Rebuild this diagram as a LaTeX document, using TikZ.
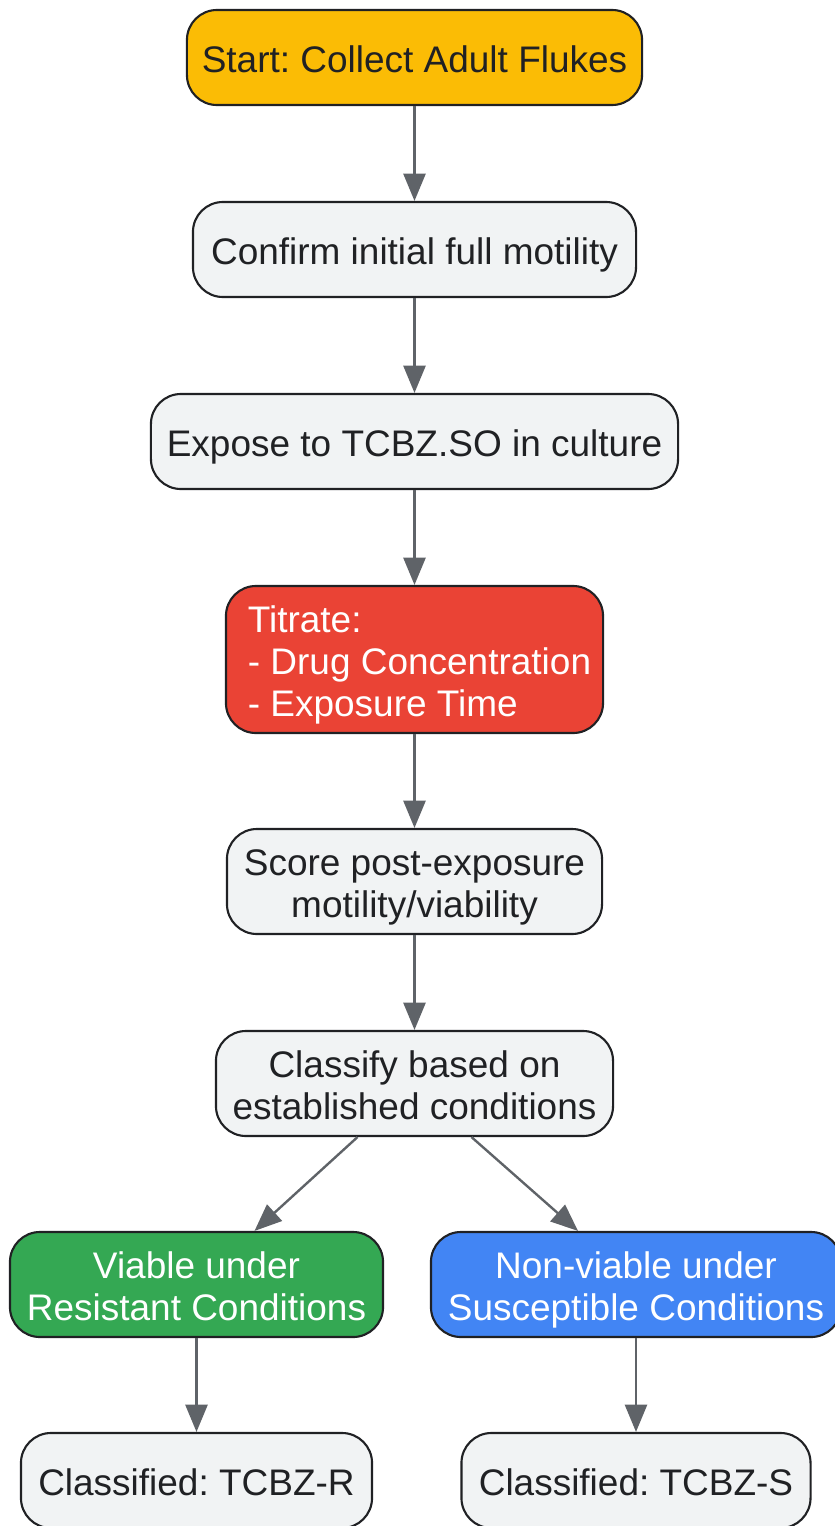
\documentclass[tikz,border=0pt]{standalone}
\usepackage{fontspec}
\setmainfont{Liberation Sans}
\frenchspacing
\usetikzlibrary{arrows.meta,calc}

\definecolor{startyellow}{HTML}{FBBC05}
\definecolor{titratered}{HTML}{EA4335}
\definecolor{viablegreen}{HTML}{34A853}
\definecolor{nonviableblue}{HTML}{4285F4}
\definecolor{boxgray}{HTML}{F1F3F4}
\definecolor{boxline}{HTML}{202124}
\definecolor{flowgray}{HTML}{5F6368}

\newcommand{\tstrut}{\rule[-0.25em]{0pt}{1.33em}}
\newcommand{\bstrut}{\rule[-0.25em]{0pt}{0.25em}}

\tikzset{
  box/.style={draw=boxline, line width=1.5pt, rounded corners=0.75cm, fill=boxgray,
    text=boxline, font=\fontsize{26.3}{29.9}\selectfont, align=center, inner sep=0pt},
  flow/.style={draw=flowgray, line width=1.7pt, -{Triangle[length=0.68cm,width=0.55cm]}}
}

\begin{document}
\begin{tikzpicture}[x=0.025cm,y=-0.025cm]
        \useasboundingbox (0,0) rectangle (835,1526);
        % main column
        \node[box, fill=startyellow, minimum width=11.375cm, minimum height=2.375cm] (start) at (414.5,57.5) {\tstrut Start: Collect Adult Flukes\bstrut};
        \node[box, minimum width=11.075cm, minimum height=2.375cm] (confirm) at (414.5,249.5) {\tstrut Confirm initial full motility\bstrut};
        \node[box, minimum width=13.175cm, minimum height=2.375cm] (expose) at (414.5,441.5) {\tstrut Expose to TCBZ.SO in culture\bstrut};
        \node[box, fill=titratered, text=white, align=left, minimum width=9.425cm, minimum height=3.675cm] (titrate) at (414.5,659.5) {\tstrut\hspace*{0.25cm}Titrate:\\\hspace*{0.25cm}- Drug Concentration\\\hspace*{0.25cm}- Exposure Time\bstrut};
        \node[box, minimum width=9.375cm, minimum height=2.625cm] (score) at (414.5,881.5) {\tstrut Score post-exposure\\motility/viability\bstrut};
        \node[box, minimum width=9.925cm, minimum height=2.625cm] (classify) at (414.5,1083.5) {\tstrut Classify based on\\established conditions\bstrut};
        % branches
        \node[box, fill=viablegreen, text=white, minimum width=9.325cm, minimum height=2.625cm] (viable) at (196.5,1284.5) {\tstrut Viable under\\Resistant Conditions\bstrut};
        \node[box, fill=nonviableblue, text=white, minimum width=10.25cm, minimum height=2.625cm] (nonviable) at (636,1284.5) {\tstrut Non-viable under\\Susceptible Conditions\bstrut};
        \node[box, minimum width=8.775cm, minimum height=2.375cm] (classR) at (196.5,1480.5) {\tstrut Classified: TCBZ-R\bstrut};
        \node[box, minimum width=8.725cm, minimum height=2.375cm] (classS) at (636,1480.5) {\tstrut Classified: TCBZ-S\bstrut};

        \draw[flow] (start) -- (confirm);
        \draw[flow] (confirm) -- (expose);
        \draw[flow] (expose) -- (titrate);
        \draw[flow] (titrate) -- (score);
        \draw[flow] (score) -- (classify);
        \draw[flow] ($(classify.south)+(-57,0)$) -- ($(viable.north)+(58,0)$);
        \draw[flow] ($(classify.south)+(57,0)$) -- ($(nonviable.north)+(-58,0)$);
        \draw[flow] (viable) -- (classR);
        \draw[flow] (nonviable) -- (classS);
    \end{tikzpicture}
\end{document}
